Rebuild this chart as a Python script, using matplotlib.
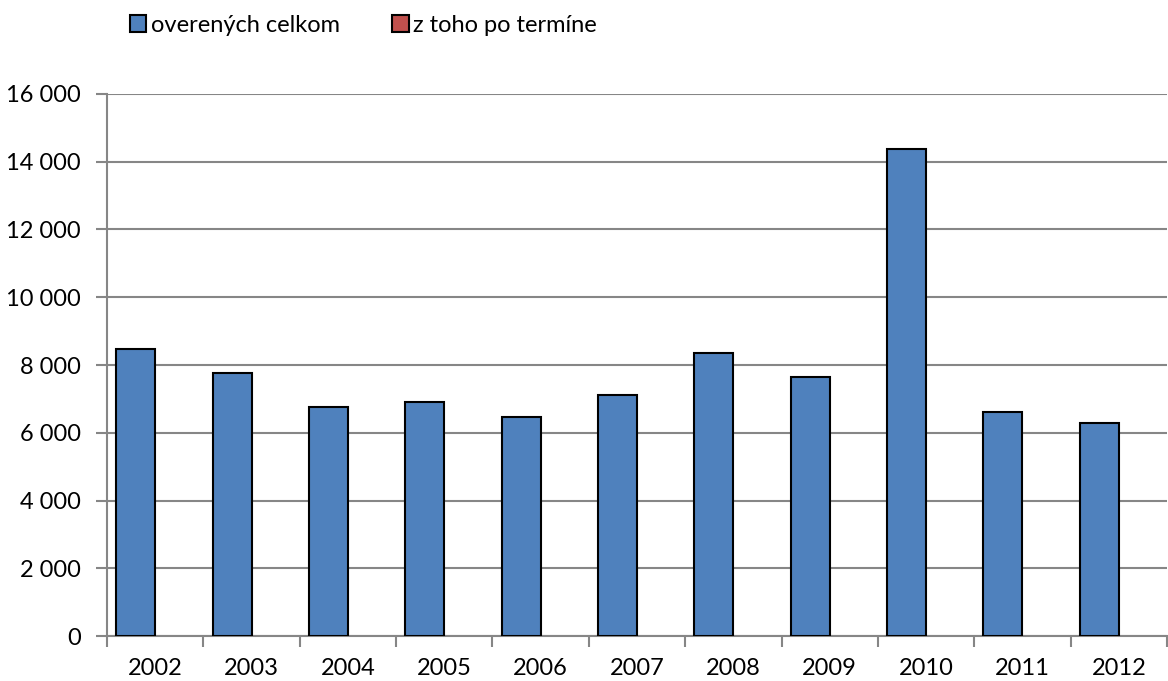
import numpy as np
import matplotlib
matplotlib.use('Agg')
import matplotlib.pyplot as plt
from matplotlib.patches import Patch
from matplotlib.ticker import FuncFormatter

# dáta
years = ['2002', '2003', '2004', '2005', '2006', '2007', '2008', '2009', '2010', '2011', '2012']
overenych_celkom = [8460, 7770, 6750, 6900, 6460, 7110, 8350, 7650, 14390, 6610, 6280]
po_termine = [0, 0, 0, 0, 0, 0, 0, 0, 0, 0, 0]

plt.rcParams['font.family'] = ['Lato', 'DejaVu Sans']

fig = plt.figure(figsize=(11.68, 6.81), dpi=100)
ax = fig.add_axes([0.0916, 0.066, 0.9075, 0.796])

x = np.arange(len(years))
w = 0.404
ax.bar(x - w / 2, overenych_celkom, width=w, color='#4f81bd', edgecolor='black',
       linewidth=1.5, zorder=3)
ax.bar(x + w / 2, po_termine, width=w, color='#c0504d', linewidth=0, zorder=3)

ax.set_xlim(-0.5, len(years) - 0.5)
ax.set_ylim(0, 16000)
ax.set_yticks(range(0, 16001, 2000))
ax.yaxis.set_major_formatter(FuncFormatter(lambda v, p: f'{int(v):,}'.replace(',', ' ')))
ax.grid(axis='y', color='#868686', linewidth=1.5, zorder=0)

ax.set_xticks(x)
ax.set_xticklabels(years)
ax.set_xticks(np.arange(-0.5, len(years), 1), minor=True)
ax.tick_params(axis='x', which='major', length=0, pad=16, labelsize=17)
ax.tick_params(axis='x', which='minor', length=8, width=1.5, color='#868686', direction='out')
ax.tick_params(axis='y', length=8, width=1.5, color='#868686', pad=11, labelsize=17)

for s in ['top', 'right']:
    ax.spines[s].set_visible(False)
for s in ['left', 'bottom']:
    ax.spines[s].set_color('#868686')
    ax.spines[s].set_linewidth(1.5)

# legenda
handles = [Patch(facecolor='#4f81bd', edgecolor='black', linewidth=1.5, label='overených celkom'),
           Patch(facecolor='#c0504d', edgecolor='black', linewidth=1.5, label='z toho po termíne')]
fig.legend(handles=handles, loc='center left', bbox_to_anchor=(0.093, 0.963), ncol=2,
           frameon=False, fontsize=17, handlelength=0.7, handleheight=0.7,
           handletextpad=0.2, columnspacing=2.2)

fig.savefig('out.png', dpi=100)
